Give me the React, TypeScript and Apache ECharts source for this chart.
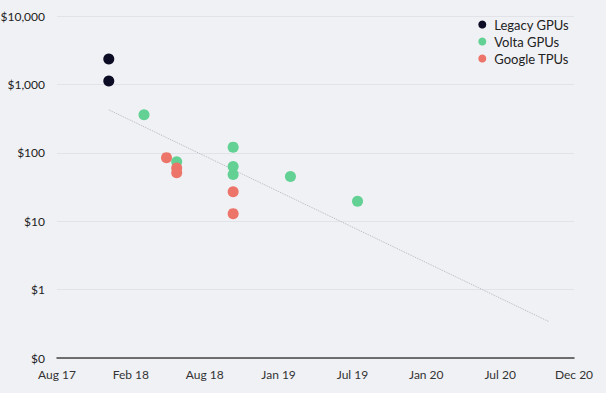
import React, { useEffect, useRef } from "react";
import * as echarts from "echarts";

// x values: days since Aug 1, 2017
const xTickLabels = ["Aug 17", "Feb 18", "Aug 18", "Jan 19", "Jul 19", "Jan 20", "Jul 20", "Dec 20"];
const yTickValues = [0.1, 1, 10, 100, 1000, 10000];

const legacyDays = [122, 122];
const legacyCost = [2350, 1120];

const voltaDays = [205, 282, 415, 415, 415, 550, 708];
const voltaCost = [360, 74, 121, 63, 48, 45, 19.5];

const tpuDays = [258, 282, 282, 415, 415];
const tpuCost = [85, 60, 51, 27, 12.9];

const trendDays = [122, 1159];
const trendCost = [425, 0.34];

const zip = (xs: number[], ys: number[]) => xs.map((x, i) => [x, ys[i]]);

export default function App() {
  const ref = useRef<HTMLDivElement>(null);
  useEffect(() => {
    document.body.style.margin = "0";
    document.body.style.background = "#f0f1f5";
    const chart = echarts.init(ref.current!, null, { renderer: "svg" });
    const font = "Lato";
    chart.setOption({
      animation: false,
      backgroundColor: "#f0f1f5",
      textStyle: { fontFamily: font },
      grid: { left: 57, right: 32, top: 16, bottom: 35, containLabel: false, outerBoundsMode: "none" },
      legend: {
        orient: "vertical",
        right: 32,
        top: 13,
        itemWidth: 8,
        itemHeight: 8,
        itemGap: 4,
        icon: "circle",
        data: ["Legacy GPUs", "Volta GPUs", "Google TPUs"],
        textStyle: { fontFamily: font, fontSize: 13, color: "#222", padding: [0, 0, 0, 3] },
      },
      xAxis: {
        type: "value",
        min: 0,
        max: 1218,
        interval: 174,
        axisLine: { show: true, lineStyle: { color: "#444", width: 1.5 } },
        axisTick: { show: false },
        splitLine: { show: false },
        axisLabel: {
          color: "#333",
          fontSize: 12,
          margin: 10,
          formatter: (v: number) => xTickLabels[Math.round(v / 174)] ?? "",
        },
      },
      yAxis: {
        type: "log",
        logBase: 10,
        min: yTickValues[0],
        max: yTickValues[yTickValues.length - 1],
        axisLine: { show: false },
        axisTick: { show: false },
        splitLine: { show: true, lineStyle: { color: "#e2e3e9", width: 1 } },
        axisLabel: {
          color: "#222",
          fontSize: 12,
          margin: 12,
          formatter: (v: number) => (v < 1 ? "$0" : "$" + Math.round(v).toLocaleString("en-US")),
        },
      },
      series: [
        {
          type: "line",
          name: "trend",
          data: zip(trendDays, trendCost),
          showSymbol: false,
          symbol: "none",
          lineStyle: { color: "#b5b7bf", width: 1, type: "dotted" },
          silent: true,
          z: 1,
        },
        {
          type: "scatter",
          name: "Legacy GPUs",
          data: zip(legacyDays, legacyCost),
          symbolSize: 11,
          itemStyle: { color: "#0c0c24", opacity: 1 },
          z: 3,
        },
        {
          type: "scatter",
          name: "Volta GPUs",
          data: zip(voltaDays, voltaCost),
          symbolSize: 11,
          itemStyle: { color: "#62d193", opacity: 1 },
          z: 3,
        },
        {
          type: "scatter",
          name: "Google TPUs",
          data: zip(tpuDays, tpuCost),
          symbolSize: 11,
          itemStyle: { color: "#ec7468", opacity: 1 },
          z: 3,
        },
      ],
    });
    return () => chart.dispose();
  }, []);
  return <div ref={ref} style={{ width: 606, height: 393 }} />;
}
